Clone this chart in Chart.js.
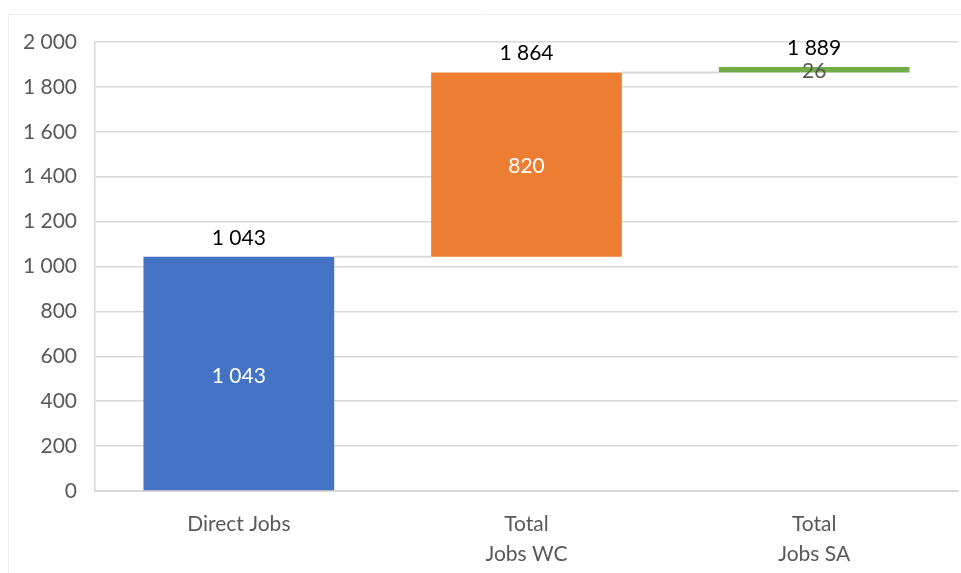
<!DOCTYPE html>
<html>
<head>
<meta charset="utf-8">
<script src="https://cdn.jsdelivr.net/npm/chart.js@4"></script>
<style>
  html, body { margin: 0; padding: 0; background: #ffffff; }
  #wrap { width: 961px; height: 573px; position: relative; }
</style>
</head>
<body>
<div id="wrap"><canvas id="c" width="961" height="573"></canvas></div>
<script>
const categories = [['Direct Jobs'], ['Total', 'Jobs WC'], ['Total', 'Jobs SA']];
const stepValues = [1043, 820, 26];
const runningTotals = [1043, 1864, 1889];
const barColors = ['#4472C4', '#ED7D31', '#70AD47'];
const innerLabelColors = ['#ffffff', '#ffffff', '#595959'];
const yTicks = { min: 0, max: 2000, step: 200 };

const starts = runningTotals.map((t, i) => (i === 0 ? 0 : runningTotals[i - 1]));
const floating = runningTotals.map((t, i) => [starts[i], t]);

function fmt(v) {
  return String(Math.round(v)).replace(/\B(?=(\d{3})+(?!\d))/g, ' ');
}

const FONT = 'Lato, "Open Sans", sans-serif';

const waterfallPlugin = {
  id: 'waterfall',
  beforeDraw(chart) {
    const ctx = chart.ctx;
    ctx.save();
    ctx.strokeStyle = '#eeeeee';
    ctx.lineWidth = 1;
    ctx.beginPath();
    ctx.moveTo(8.5, 573);
    ctx.lineTo(8.5, 14.5);
    ctx.lineTo(961, 14.5);
    ctx.stroke();
    ctx.restore();
  },
  afterDatasetsDraw(chart) {
    const ctx = chart.ctx;
    const meta = chart.getDatasetMeta(0);
    const y = chart.scales.y;
    ctx.save();
    ctx.strokeStyle = '#d9d9d9';
    ctx.lineWidth = 2;
    for (let i = 0; i < meta.data.length - 1; i++) {
      const a = meta.data[i], b = meta.data[i + 1];
      const py = y.getPixelForValue(runningTotals[i]);
      ctx.beginPath();
      ctx.moveTo(a.x + a.width / 2, py);
      ctx.lineTo(b.x - b.width / 2, py);
      ctx.stroke();
    }
    ctx.font = '21px ' + FONT;
    ctx.textAlign = 'center';
    ctx.textBaseline = 'middle';
    meta.data.forEach((bar, i) => {
      const topPx = y.getPixelForValue(runningTotals[i]);
      const midPx = (y.getPixelForValue(starts[i]) + topPx) / 2;
      ctx.fillStyle = '#000000';
      ctx.fillText(fmt(runningTotals[i]), bar.x, topPx - 19);
      ctx.fillStyle = innerLabelColors[i];
      ctx.fillText(fmt(stepValues[i]), bar.x, midPx + 2);
    });
    ctx.restore();
  }
};

new Chart(document.getElementById('c'), {
  type: 'bar',
  data: {
    labels: categories,
    datasets: [{
      data: floating,
      backgroundColor: barColors,
      borderWidth: 0,
      borderSkipped: false,
      categoryPercentage: 1,
      barPercentage: 0.663
    }]
  },
  options: {
    responsive: false,
    animation: false,
    devicePixelRatio: 1,
    layout: { padding: { top: 42, right: 3, left: 0, bottom: 0 } },
    plugins: { legend: { display: false }, tooltip: { enabled: false } },
    scales: {
      x: {
        grid: { display: false, drawTicks: false },
        border: { display: true, color: '#d9d9d9', width: 2 },
        ticks: {
          color: '#595959',
          font: { family: FONT, size: 21, lineHeight: 1.4 },
          padding: 19,
          maxRotation: 0
        },
        afterFit(s) { s.height = 82; }
      },
      y: {
        min: yTicks.min,
        max: yTicks.max,
        grid: { color: '#d9d9d9', lineWidth: 1.5, drawTicks: false },
        border: { display: true, color: '#d9d9d9', width: 1.5 },
        ticks: {
          stepSize: yTicks.step,
          color: '#595959',
          font: { family: FONT, size: 21 },
          padding: 18,
          callback: (v) => fmt(v)
        },
        afterFit(s) { s.width = 95; }
      }
    }
  },
  plugins: [waterfallPlugin]
});
</script>
</body>
</html>
